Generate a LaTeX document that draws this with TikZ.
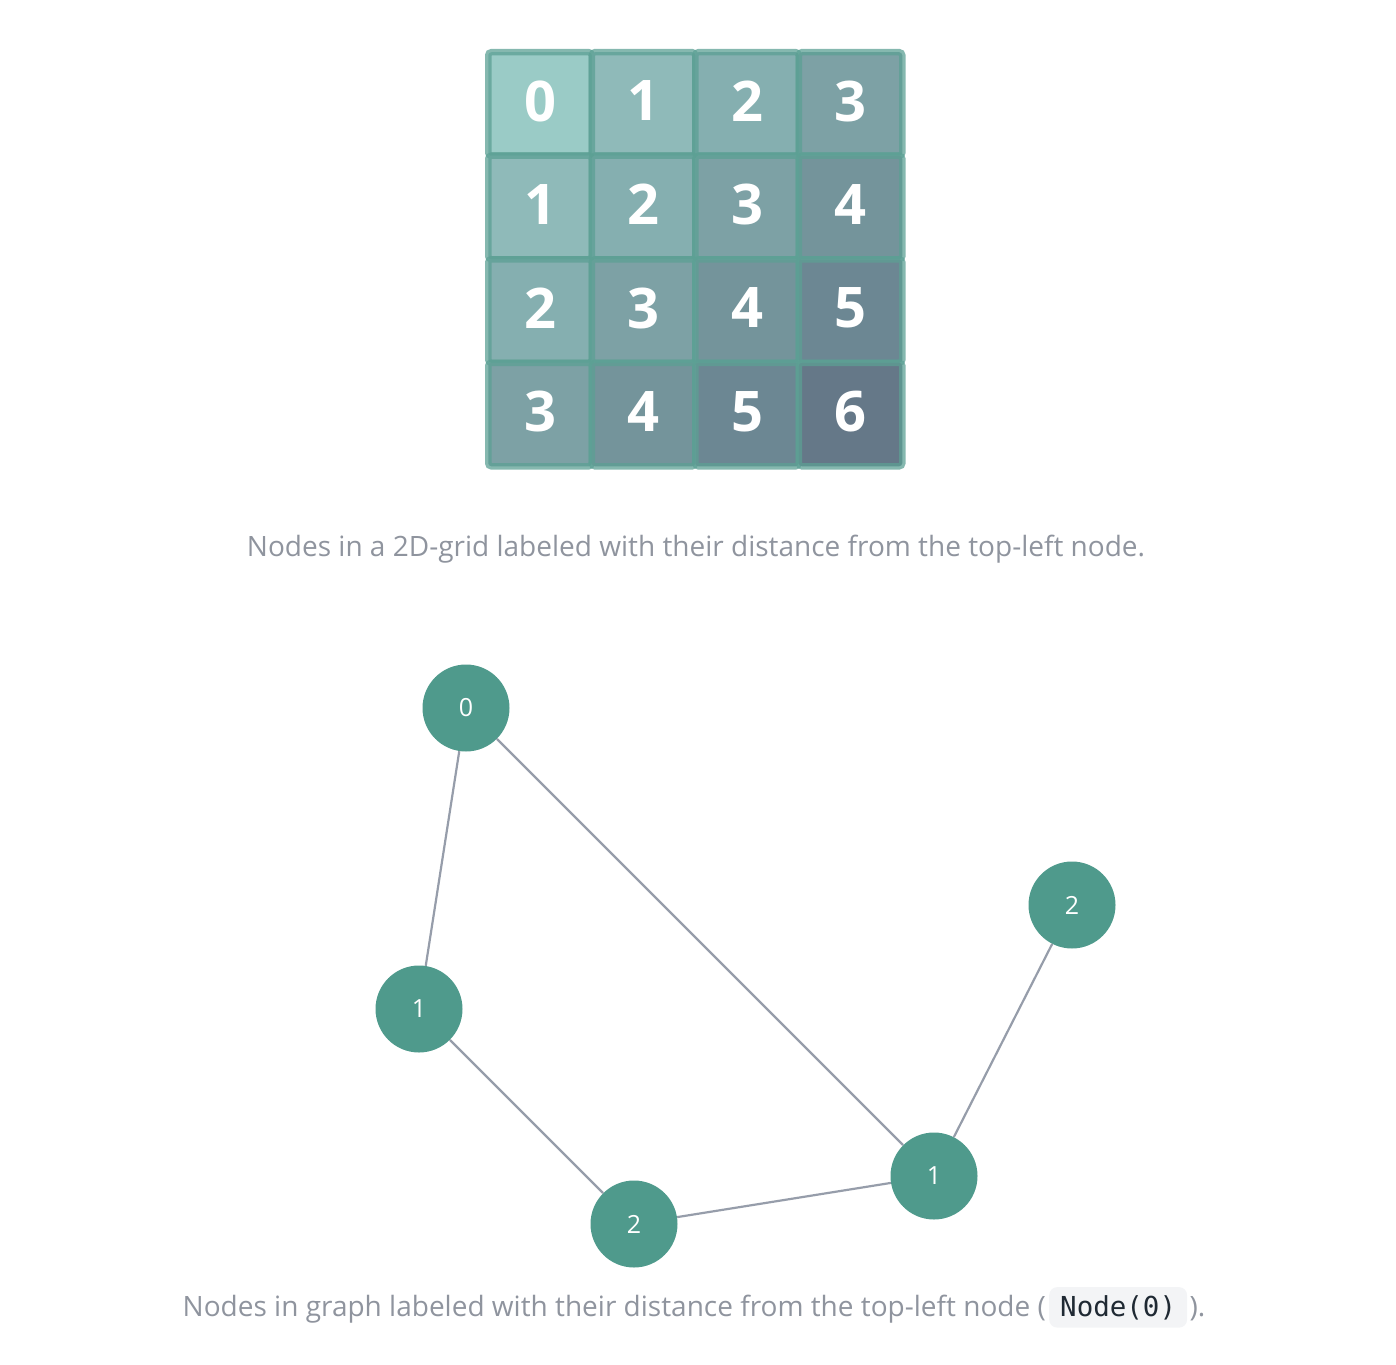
\documentclass[tikz,border=0pt]{standalone}
\usepackage{fontspec}
\setmainfont{Open Sans}
\setmonofont{DejaVu Sans Mono}
\usetikzlibrary{positioning}

\definecolor{c0}{RGB}{154,203,198}
\definecolor{c1}{RGB}{143,186,185}
\definecolor{c2}{RGB}{133,175,176}
\definecolor{c3}{RGB}{125,161,165}
\definecolor{c4}{RGB}{116,148,155}
\definecolor{c5}{RGB}{108,135,147}
\definecolor{c6}{RGB}{101,120,136}
\definecolor{gridline}{RGB}{92,160,148}
\definecolor{nodefill}{RGB}{79,154,140}
\definecolor{edgegray}{RGB}{150,157,170}
\definecolor{captiongray}{RGB}{143,148,158}
\definecolor{codebg}{RGB}{243,244,246}
\definecolor{codetext}{RGB}{31,41,51}

\tikzset{
    cell/.style={draw=gridline, draw opacity=0.75, line width=6.5pt, rounded corners=3pt,
        minimum size=103.5pt, inner sep=0pt, text depth=6pt, text=white,
        font=\fontsize{56}{60}\selectfont\bfseries},
    vertex/.style={circle, fill=nodefill, minimum size=87pt, inner sep=0pt, text=white,
        font=\fontsize{25}{28}\selectfont},
    edge/.style={draw=edgegray, line width=2.2pt},
    caption/.style={text=captiongray, inner sep=0pt, font=\fontsize{28}{32}\selectfont},
    codebox/.style={fill=codebg, rounded corners=8pt, text=codetext, inner xsep=11pt,
        inner ysep=8pt, font=\fontsize{27.5}{30}\selectfont\ttfamily}
}

\begin{document}
\begin{tikzpicture}[x=1pt, y=-1pt]
    \useasboundingbox (0,0) rectangle (1396,1364);
    % distance grid
    \foreach \r in {0,...,3} {
        \foreach \c in {0,...,3} {
            \pgfmathtruncatemacro{\d}{\r+\c}
            \node[cell, fill=c\d] (g\r\c) at (540+103.5*\c, 104+103.5*\r) {\d};
        }
    }
    \node[caption, anchor=base] (cap1) at (696,556)
        {Nodes in a 2D-grid labeled with their distance from the top-left node.};

    % graph
    \node[vertex] (n0) at (466,708) {0};
    \node[vertex] (n1a) at (419,1009) {1};
    \node[vertex] (n2a) at (634,1224) {2};
    \node[vertex] (n1b) at (934,1176) {1};
    \node[vertex] (n2b) at (1072,905) {2};
    \draw[edge] (n0) -- (n1a);
    \draw[edge] (n0) -- (n1b);
    \draw[edge] (n1a) -- (n2a);
    \draw[edge] (n2a) -- (n1b);
    \draw[edge] (n1b) -- (n2b);

    \node[caption, anchor=base east] (cap2a) at (1046,1316)
        {Nodes in graph labeled with their distance from the top-left node (};
    \node[codebox, anchor=base west] (code) at ([xshift=3pt]cap2a.base east) {Node(0)};
    \node[caption, anchor=base west] (cap2b) at ([xshift=2pt]code.base east) {).};
\end{tikzpicture}
\end{document}
